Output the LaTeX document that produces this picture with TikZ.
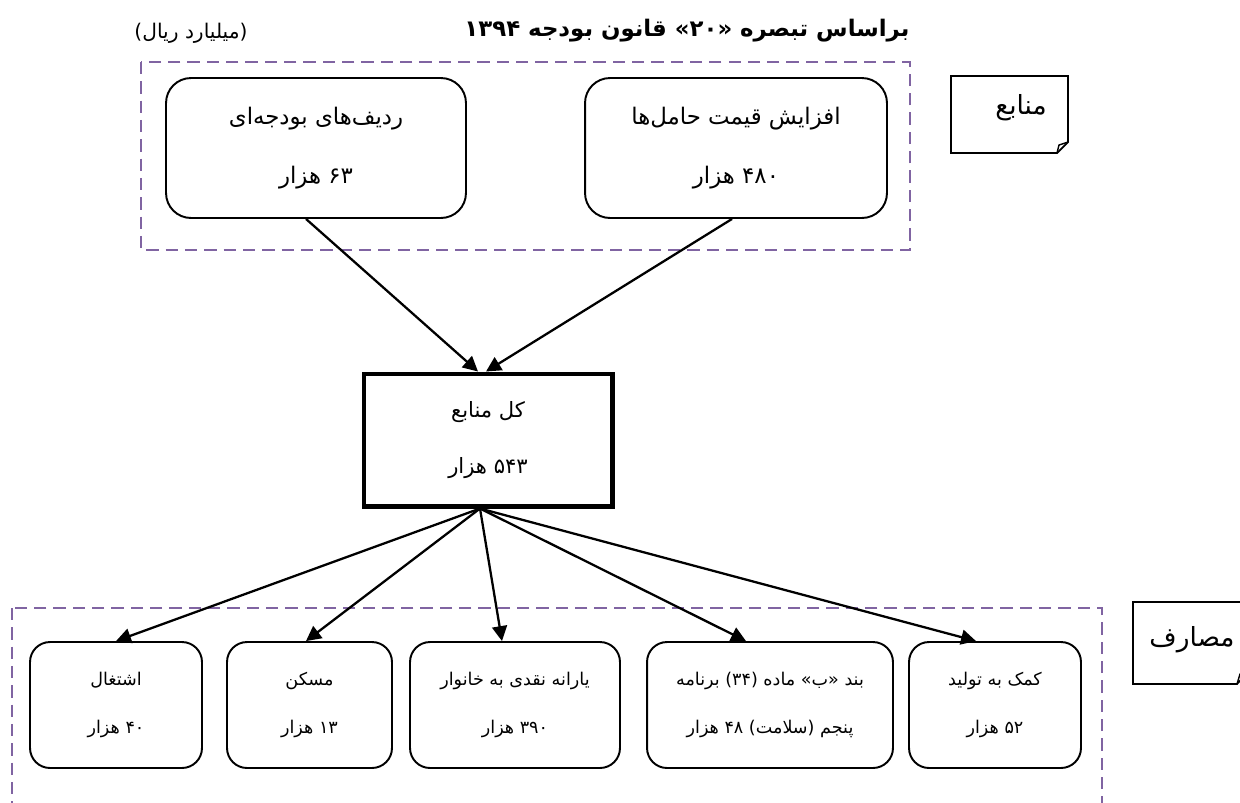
\documentclass[tikz,border=0pt]{standalone}
\usepackage{fontspec}
\newfontfamily\fa[Script=Arabic]{DejaVu Sans}
\TeXXeTstate=1
\usepackage{tikz}
\usetikzlibrary{arrows.meta,positioning,calc}
\definecolor{grouppurple}{RGB}{128,100,162}
\newcommand{\fatxt}[1]{\beginR #1\endR}

\begin{document}
\begin{tikzpicture}[x=0.02cm,y=-0.02cm,
	itembox/.style={draw,line width=1.1pt,rounded corners=0.5cm,align=center,inner sep=0pt,font=\fa\fontsize{13}{15}\selectfont},
	costbox/.style={itembox,rounded corners=0.4cm,minimum height=2.52cm,font=\fa\fontsize{10}{12}\selectfont},
	groupframe/.style={draw=grouppurple,line width=1.5pt,dash pattern=on 7pt off 4pt},
	flow/.style={line width=1.3pt,-{Triangle[length=8.5pt,width=8.5pt]}}]
	\useasboundingbox (0,0) rectangle (1240,802);
	\clip (0,0) rectangle (1240,802);
	%
	\node[font=\fa\fontsize{13}{15}\selectfont\bfseries] (title) at (687,31) {\fatxt{براساس تبصره «۲۰» قانون بودجه ۱۳۹۴}};
	\node[font=\fa\fontsize{11.5}{13}\selectfont] (unit) at (191,33) {\fatxt{(میلیارد ریال)}};
	
	% sources
	\draw[groupframe] (141,62) rectangle (910,250);
	\node[itembox,minimum width=6cm,minimum height=2.8cm] (rows) at (316,148) {\fatxt{ردیف‌های بودجه‌ای}\\[19pt]\fatxt{۶۳ هزار}};
	\node[itembox,minimum width=6.04cm,minimum height=2.8cm] (hikes) at (736,148) {\fatxt{افزایش قیمت حامل‌ها}\\[19pt]\fatxt{۴۸۰ هزار}};
	\draw[line width=1pt] (951,76) -- (1068,76) -- (1068,142) -- (1057,153) -- (951,153) -- cycle;
	\draw[line width=0.8pt] (1068,142) -- (1059,145) -- (1057,153);
	\node[font=\fa\fontsize{15}{17}\selectfont] (srclabel) at (1021,108) {\fatxt{منابع}};
	
	% total
	\node[draw,line width=2.3pt,minimum width=4.98cm,minimum height=2.66cm,align=center,inner sep=0pt,font=\fa\fontsize{12}{14}\selectfont] (total) at (488,440) {\fatxt{کل منابع}\\[18pt]\fatxt{۵۴۳ هزار}};
	\draw[flow] ([xshift=-0.2cm]rows.south) -- ([xshift=-0.2cm]total.north);
	\draw[flow] ([xshift=-0.08cm]hikes.south) -- ([xshift=-0.04cm]total.north);
	
	% uses
	\draw[groupframe] (12,608) rectangle (1102,830);
	\node[costbox,minimum width=3.44cm] (job) at (116,705) {\fatxt{اشتغال}\\[15pt]\fatxt{۴۰ هزار}};
	\node[costbox,minimum width=3.3cm] (house) at (309.5,705) {\fatxt{مسکن}\\[15pt]\fatxt{۱۳ هزار}};
	\node[costbox,minimum width=4.2cm] (cash) at (515,705) {\fatxt{یارانه نقدی به خانوار}\\[15pt]\fatxt{۳۹۰ هزار}};
	\node[costbox,minimum width=4.92cm] (article) at (770,705) {\fatxt{بند «ب» ماده (۳۴) برنامه}\\[15pt]\fatxt{پنجم (سلامت) ۴۸ هزار}};
	\node[costbox,minimum width=3.44cm] (support) at (995,705) {\fatxt{کمک به تولید}\\[15pt]\fatxt{۵۲ هزار}};
	\draw[line width=1pt] (1133,602) -- (1250,602) -- (1250,670) -- (1237,684) -- (1133,684) -- cycle;
	\draw[line width=0.8pt] (1237,684) -- (1240,674) -- (1250,670);
	\node[font=\fa\fontsize{15}{17}\selectfont] (uselabel) at (1192,640) {\fatxt{مصارف}};
	\foreach \t/\s in {job/0,house/-0.07,cash/-0.26,article/-0.48,support/-0.38}
	\draw[flow] ([xshift=-0.16cm]total.south) -- ([xshift=\s cm]\t.north);
\end{tikzpicture}
\end{document}
